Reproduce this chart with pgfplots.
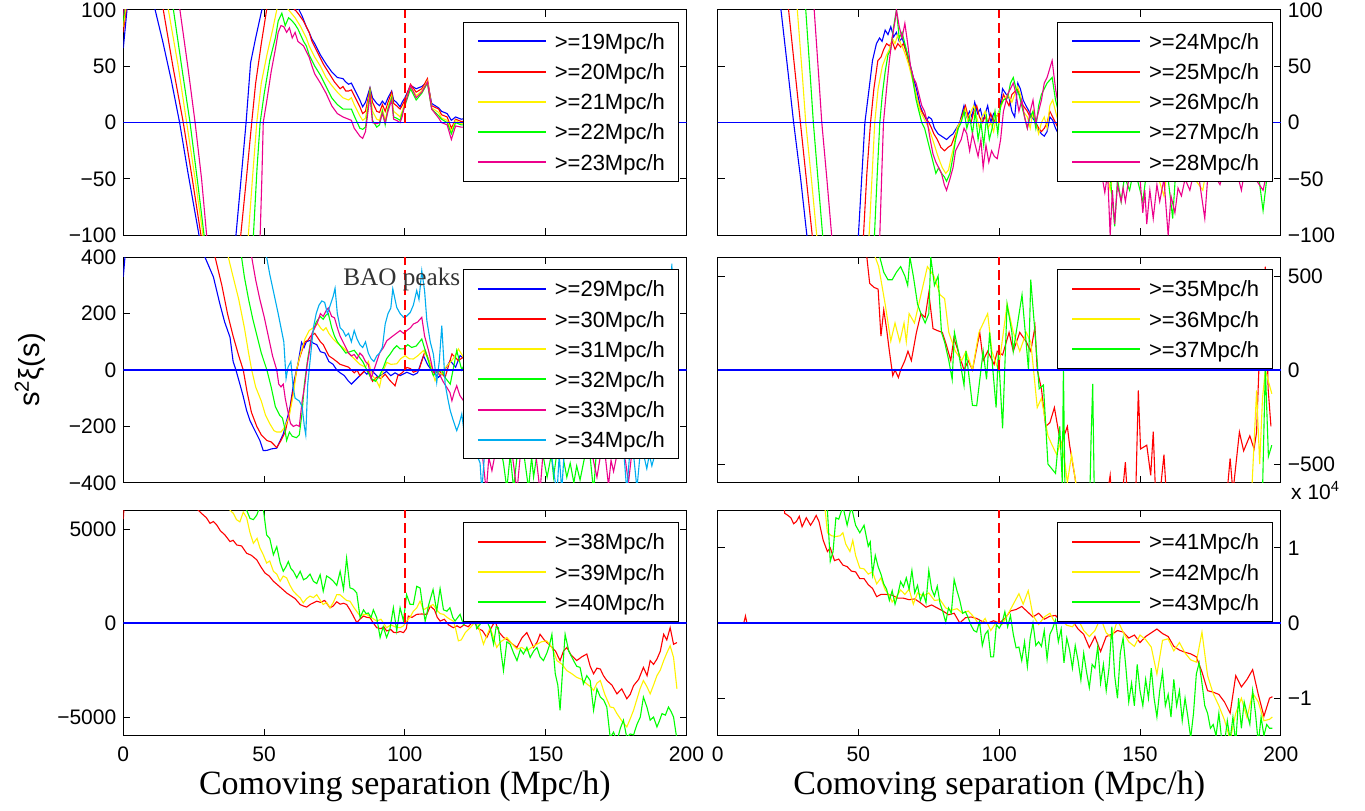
\documentclass[border=0pt]{standalone}
\usepackage{fontspec}
\setmainfont{Liberation Sans}
\newfontfamily\seriffont{Liberation Serif}
\usepackage{pgfplots}
\pgfplotsset{compat=1.18}

\pgfplotsset{
  panel/.style={
    scale only axis, width=281.6pt, height=112.8pt, anchor=south west,
    xmin=0, xmax=200, xtick={0,50,100,150,200}, xticklabels={},
    tick align=inside, major tick length=3.5pt,
    axis line style={line width=0.6pt},
    every tick/.style={black, line width=0.5pt},
    tick label style={font=\fontsize{10.5}{12}\selectfont},
    xticklabel style={yshift=-1.8pt},
    scaled y ticks=false,
    unbounded coords=jump,
    every axis plot/.append style={line width=0.55pt},
    legend cell align=left,
    legend image code/.code={\draw[##1, line width=1pt] (0pt,0pt) -- (34pt,0pt);},
    legend style={at={(1,1)}, anchor=north east, xshift=-3.75pt, yshift=-6pt,
      font=\fontsize{11}{13}\selectfont, draw=black, line width=0.6pt, fill=white,
      inner xsep=6.75pt, inner ysep=4pt, column sep=4pt, row sep=4.1pt,
      nodes={inner sep=0pt, text height=9.5pt, text depth=1.5pt}},
  },
  rightpanel/.style={panel, yticklabel pos=right},
  bottompanel/.style={xticklabels={0,50,100,150,200},
    xlabel={Comoving separation (Mpc/h)},
    xlabel style={font=\seriffont\fontsize{17}{19}\selectfont,
      at={(axis description cs:0.5,0)}, anchor=base, yshift=-29.5pt}},
  zeroline/.style={blue, line width=0.75pt, forget plot},
  baoline/.style={red, dash pattern=on 5pt off 2.5pt, line width=0.9pt, forget plot},
}

\begin{document}
\begin{tikzpicture}
\path[use as bounding box] (0,0) rectangle (682.5pt,405pt);

% ---------------- top left: 19-23 Mpc/h ----------------
\begin{axis}[panel, at={(61.65pt,287.3pt)}, ymin=-100, ymax=100,
  ytick={-100,-50,0,50,100}, yticklabels={−100,−50,0,50,100}]
\addplot[blue] coordinates {(0,66) (1.5,105) (4,180) (8,150) (11.3,100) (14,72) (17,38) (20,0) (23,-45) (26.9,-100) (30,-160) (35,-200) (38,-160) (40,-100) (42,-45) (43.6,0) (45.2,53) (47,75) (49.2,100) (52,130) (56,140) (60,110) (61,100) (62,102) (63.4,95) (65,85) (66,80) (67,74) (68,70) (70,60) (72,52) (74,45) (76,40) (78,39) (79,36) (80,34) (81,35) (82,30) (84,20) (85,14) (86,18) (87.6,31) (88.5,22) (90,17) (91,15) (92,19) (93,16) (94,22) (95.3,28) (96,20) (97,18) (98.3,14) (99,18) (100,22) (102,33) (104,30) (106,32) (108,36) (109.5,17) (112,13) (113,10) (115,8) (116.5,2) (118,5) (120,3) (124,5) (128,-3) (132,8) (136,2) (140,-5) (144,6) (148,0) (152,-8) (156,4) (160,-2) (164,6) (168,-4) (172,3) (176,-6) (180,2) (184,-3) (188,5) (192,-2) (196,1)};
\addlegendentry{>=19Mpc/h}
\addplot[red] coordinates {(0,80) (1,100) (3,150) (10,160) (14.2,100) (17.6,50) (21.3,0) (24.5,-50) (27.6,-100) (31,-160) (38,-170) (41.7,-100) (43.7,-50) (45.6,0) (47,35) (49,70) (50.9,100) (53,120) (57,115) (60,102) (61,100) (62,97) (64,90) (66,80) (67,72) (69,62) (71,52) (73,44) (75,36) (77,30) (78,32) (79,28) (80,28) (81,29) (82,24) (84,14) (85,8) (86,10) (87.6,30) (88.5,18) (90,10) (91,9) (92,16) (93,10) (94,18) (95.3,27) (96,17) (97,15) (98.3,12) (99,15) (100,20) (102,34) (104,27) (106,30) (108,39) (109.5,15) (112,12) (113,7) (115,5) (116.5,-5) (118,3) (120,1) (124,2) (128,-6) (132,5) (136,-2) (140,-8) (144,3) (148,-4) (152,-12) (156,1) (160,-6) (164,3) (168,-8) (172,0) (176,-10) (180,-2) (184,-7) (188,2) (192,-6) (196,-2)};
\addlegendentry{>=20Mpc/h}
\addplot[yellow] coordinates {(0,85) (1,105) (10,170) (16,100) (19.5,50) (22.5,0) (25.5,-50) (28.3,-100) (32,-160) (40,-170) (44.4,-100) (46,-45) (47.4,0) (49,35) (51,60) (53,82) (54.5,100) (56,110) (58,102) (60,96) (61,93) (63,85) (65,75) (66,68) (68,58) (70,50) (72,40) (74,33) (76,27) (78,22) (80,20) (81,22) (82,16) (84,6) (85,2) (86,4) (87.6,28) (88.5,10) (90,3) (91,2) (92,12) (93,2) (94,14) (95.3,24) (96,10) (97,8) (98.3,5) (99,10) (100,18) (102,32) (104,24) (106,28) (108,37) (109.5,13) (112,9) (113,4) (115,2) (116.5,-8) (118,2) (120,-1) (124,0) (128,-8) (132,3) (136,-4) (140,-10) (144,1) (148,-6) (152,-14) (156,-1) (160,-8) (164,1) (168,-10) (172,-2) (176,-12) (180,-4) (184,-9) (188,0) (192,-8) (196,-4)};
\addlegendentry{>=21Mpc/h}
\addplot[green] coordinates {(0,90) (1,110) (10,180) (17.8,100) (21,45) (23.7,0) (26.5,-55) (28.7,-100) (33,-170) (42,-170) (46.2,-100) (47.5,-40) (48.6,0) (50,25) (52,55) (54,75) (55,90) (56.3,97) (57.5,86) (58.7,93) (60,90) (61,87) (62,83) (64,72) (65,68) (66,60) (68,50) (70,42) (72,32) (74,22) (76,16) (78,12) (80,12) (81,12) (82,6) (84,-5) (85,-6) (86,-4) (87.6,27) (88.5,2) (90,-4) (91,-2) (92,10) (93,-2) (94,12) (95.3,22) (96,5) (97,4) (98.3,2) (99,8) (100,15) (102,30) (104,20) (106,26) (108,35) (109.5,12) (112,6) (113,3) (115,0) (116.5,-10) (118,0) (120,-2) (124,-2) (128,-10) (132,1) (136,-6) (140,-12) (144,-1) (148,-8) (152,-16) (156,-3) (160,-10) (164,-1) (168,-12) (172,-4) (176,-14) (180,-6) (184,-11) (188,-2) (192,-10) (196,-6)};
\addlegendentry{>=22Mpc/h}
\addplot[magenta] coordinates {(0,95) (1,115) (10,190) (20.1,100) (23,48) (25.5,0) (27.8,-50) (29.6,-100) (34,-170) (44,-175) (48.6,-100) (49.2,-50) (49.7,0) (51,20) (52.5,45) (54,65) (55,80) (56,86) (57,85) (58,80) (59,84) (60,75) (61,80) (62,72) (64,68) (66,58) (67,50) (68,43) (70,35) (72,26) (74,15) (76,8) (78,5) (80,3) (81,2) (82,-5) (84,-12) (85,-14) (86,-8) (87.6,24) (88.5,0) (90,-1) (91,0) (92,8) (93,0) (94,10) (95.3,20) (96,3) (97,2) (98.3,0) (99,5) (100,16) (102,33) (104,22) (106,27) (108,36) (109.5,12) (112,4) (113,0) (115,-2) (116.5,-15) (118,-3) (120,-4) (124,-4) (128,-12) (132,-1) (136,-8) (140,-14) (144,-3) (148,-10) (152,-18) (156,-5) (160,-12) (164,-3) (168,-14) (172,-6) (176,-16) (180,-8) (184,-13) (188,-4) (192,-12) (196,-8)};
\addlegendentry{>=23Mpc/h}
\addplot[zeroline] coordinates {(0,0) (200,0)};
\addplot[baoline] coordinates {(100,0) (100,100)};
\end{axis}

% ---------------- top right: 24-28 Mpc/h ----------------
\begin{axis}[rightpanel, at={(358.8pt,287.3pt)}, ymin=-100, ymax=100,
  ytick={-100,-50,0,50,100}, yticklabels={−100,−50,0,50,100}]
\addplot[blue] coordinates {(0,300) (15,250) (20,150) (22.5,100) (25,45) (27,0) (29.5,-50) (31.7,-100) (35,-160) (45,-170) (50,-100) (52.3,0) (53.8,30) (55,55) (56.4,70) (57.5,75) (58.4,72) (59.5,82) (60.5,78) (61.5,85) (62.5,76) (63.5,80) (64.5,72) (65.5,75) (66.5,68) (67.5,60) (68.3,52) (69.5,40) (70.6,30) (71.9,15) (73,8) (74.2,2) (75,5) (76,3) (77,-5) (78.3,-10) (79.5,-12) (81.3,-15) (82.5,-12) (83.6,-10) (84.8,-5) (86,0) (87.5,15) (88.5,5) (89.5,10) (90.3,5) (91.3,18) (92.3,8) (93.3,12) (94.3,2) (95.9,15) (97,0) (98,8) (99,5) (100,10) (101.2,30) (102.5,25) (103.5,22) (104.5,10) (105.5,5) (106.6,35) (107.5,30) (108.5,20) (109.5,15) (110.6,10) (111.5,5) (112.5,2) (113.5,-5) (115,-10) (116,-12) (117,-8) (118,5) (119,2) (120,-5) (121,-10) (124,-15) (128,-25) (132,-20) (136,-30) (140,-15) (144,-35) (148,-25) (152,-30) (156,-20) (160,-40) (164,-30) (168,-35) (172,-25) (176,-40) (180,-30) (184,-45) (188,-35) (192,-40) (196,-30)};
\addlegendentry{>=24Mpc/h}
\addplot[red] coordinates {(0,300) (20,200) (25.2,100) (27.5,45) (29.4,0) (31.5,-50) (33.6,-100) (37,-160) (47,-170) (51.8,-100) (53,-45) (54.3,0) (55.5,30) (56.9,55) (58,58) (59,65) (60,70) (61,68) (62,72) (63,65) (64,70) (65,67) (66,70) (67,62) (68,52) (69,45) (70,30) (71,20) (72,12) (73,8) (74,4) (75,0) (76,-5) (76.8,-10) (78,-15) (79.3,-22) (80.6,-25) (81.8,-22) (83,-20) (84.5,-10) (86,0) (87,8) (88,15) (89,5) (90,0) (91,10) (92,15) (93,5) (94,0) (95,5) (96,0) (97,8) (98,0) (99,5) (100,10) (101.5,25) (102.5,20) (103.5,15) (104.5,25) (106.5,30) (107.5,22) (108.5,15) (110,10) (111,5) (112,8) (113,0) (114,-5) (115,-8) (116,-5) (117,0) (118,10) (119,5) (120,0) (121,-5) (124,-10) (128,-20) (132,-25) (136,-35) (140,-20) (144,-40) (148,-30) (152,-35) (156,-25) (160,-45) (164,-35) (168,-40) (172,-30) (176,-45) (180,-35) (184,-48) (188,-40) (192,-45) (196,-35)};
\addlegendentry{>=25Mpc/h}
\addplot[yellow] coordinates {(0,300) (22,200) (28.3,100) (30,45) (31.3,0) (33.5,-55) (35.2,-100) (39,-160) (49,-170) (53.8,-100) (55,-40) (55.8,0) (57,30) (58.5,50) (60,60) (61,65) (62,75) (63,70) (64,78) (65,70) (66,65) (67,58) (68,50) (69,40) (70,30) (71,20) (72,10) (73,5) (74,0) (75,-5) (76,-12) (77,-20) (78,-28) (79,-35) (79.8,-40) (81,-45) (82,-42) (83,-30) (84,-20) (85,-5) (86,0) (87,5) (88,12) (89,0) (90,10) (91,15) (92,5) (93,-5) (94,5) (95,10) (96,-5) (97,0) (98,-8) (99,5) (100,10) (101.5,20) (103,25) (104.5,18) (106.5,32) (107.5,25) (108.5,10) (110,5) (111,-5) (112,10) (113,0) (114,-10) (115,0) (116,5) (117,-5) (118,15) (119,20) (120,10) (121,0) (124,-15) (128,-25) (132,-30) (136,-40) (138.4,-45) (139.4,-60) (140.5,-45) (144,-35) (148,-45) (152,-40) (156,-45) (158.5,-65) (159.5,-45) (164,-40) (168,-45) (172.3,-60) (173.3,-45) (176,-40) (180,-45) (184,-40) (188,-45) (192,-40) (196,-42)};
\addlegendentry{>=26Mpc/h}
\addplot[green] coordinates {(0,300) (25,200) (31.3,100) (32.8,45) (34,0) (35.8,-55) (37.3,-100) (41,-160) (51,-170) (55.7,-100) (56.7,-45) (57.6,0) (58.5,25) (59.5,45) (60.5,60) (61.5,65) (62.5,85) (63.5,100) (64.5,75) (65.5,80) (66.5,70) (67.5,60) (68.5,50) (69.5,35) (70.5,20) (71.5,10) (72.5,0) (73.5,-5) (74.5,-15) (75.5,-25) (76.5,-35) (77.5,-45) (78.5,-40) (79.5,-45) (80.5,-48) (81.3,-52) (82.5,-45) (83.6,-30) (84.5,-15) (85.5,-5) (86.5,0) (87.5,10) (88.5,-5) (89.5,5) (90.5,-10) (91.5,10) (92.5,-15) (93.5,0) (94.5,-20) (95.5,5) (96.5,-15) (97.5,-5) (98.5,10) (99.5,-10) (100.5,15) (101.5,20) (103,22) (104,35) (105,40) (106,30) (107,25) (108,15) (109,5) (110,-5) (111,5) (112,10) (113,-5) (114,15) (115,25) (116,30) (117,35) (118.8,40) (120,20) (121,10) (122,5) (124,-10) (126,-25) (128,-15) (130,-35) (132,-25) (134,-40) (136,-30) (138,-45) (139.5,-50) (141,-92) (142,-50) (143.3,-70) (144.5,-48) (146.3,-60) (147.5,-45) (149,-50) (151,-70) (152,-50) (154,-45) (156,-50) (158,-40) (160,-50) (161.6,-85) (162.5,-50) (164,-45) (166,-40) (168,-45) (170,-35) (172,-45) (174,-40) (176,-35) (178,-45) (180,-35) (182,-40) (184,-35) (186,-45) (188,-40) (190,-35) (192,-45) (193.7,-78) (195,-50) (196,-45)};
\addlegendentry{>=27Mpc/h}
\addplot[magenta] coordinates {(0,300) (28,200) (34.3,100) (35.8,45) (37,0) (38.8,-50) (40.5,-100) (44,-160) (54,-170) (57.6,-100) (58.3,-45) (58.9,0) (60,30) (61,55) (62,75) (63,90) (63.5,100) (64.5,85) (65.5,75) (66.5,88) (67.5,70) (68.5,50) (69.5,40) (70.5,35) (71.5,25) (72.5,15) (73.5,10) (74.5,0) (75.5,-15) (76.5,-28) (77.5,-35) (78.5,-40) (79.5,-45) (80.5,-55) (81.3,-60) (82.5,-50) (83.6,-40) (84.5,-25) (85.5,-20) (86.5,-15) (87.5,-5) (88.5,-10) (89.5,-25) (90.5,-10) (91.5,-20) (92.5,-30) (93.5,-15) (94.3,-40) (95.3,-20) (96.3,-35) (97.3,-25) (98.3,-30) (99.3,-32) (100.5,-15) (101.5,10) (103,25) (104,30) (105,35) (106,25) (107,10) (108,20) (109,5) (110,-5) (111,10) (112,20) (113,0) (114,10) (115,20) (116,35) (117,40) (118.8,55) (120,30) (121,15) (122,10) (124,-10) (126,-30) (128,-20) (130,-40) (132,-30) (134,-45) (136,-40) (137.5,-62) (138.5,-45) (139.4,-100) (140.2,-60) (141,-90) (142,-55) (143.3,-70) (144,-58) (144.8,-70) (146,-50) (148,-45) (150,-50) (151,-80) (151.7,-60) (152.4,-90) (153.5,-60) (154.7,-85) (156,-55) (157,-70) (158.5,-50) (160,-100) (161,-65) (162.4,-80) (163.5,-58) (164.7,-65) (166,-50) (167.7,-60) (169,-45) (171,-50) (173,-85) (174,-50) (176,-45) (178.4,-55) (180,-40) (182,-45) (184,-40) (186,-60) (187,-45) (189,-40) (191,-50) (193.7,-60) (195,-45) (196,-40)};
\addlegendentry{>=28Mpc/h}
\addplot[zeroline] coordinates {(0,0) (200,0)};
\addplot[baoline] coordinates {(100,0) (100,100)};
\end{axis}

% ---------------- middle left: 29-34 Mpc/h ----------------
\begin{axis}[panel, at={(61.65pt,163.6pt)}, ymin=-400, ymax=400,
  ytick={-400,-200,0,200,400}, yticklabels={−400,−200,0,200,400},
  ylabel={s\textsuperscript{2}ξ(s)},
  ylabel style={at={(axis description cs:-0.1655,0.5)}, anchor=center,
    font=\fontsize{14.5}{16}\selectfont}]
\addplot[blue] coordinates {(0,330) (1,450) (10,1000) (25,700) (29,400) (32,330) (34.3,234) (36,170) (37.9,116) (39,30) (40,0) (41.4,-50) (42.5,-90) (43.8,-144) (45,-180) (46.2,-204) (47.5,-230) (48.5,-250) (49.7,-286) (51,-285) (52.5,-280) (54.5,-277) (55.5,-255) (56.8,-227) (58,-180) (59.2,-132) (60.6,-40) (62,20) (63.3,98) (64.2,80) (65,100) (66.3,105) (67.5,95) (68.7,90) (70,65) (71.6,60) (73,30) (74.5,20) (75.8,0) (77,-10) (78.5,-20) (80,-40) (81,-50) (82.5,-35) (84,-20) (85.5,-5) (86.5,-15) (87.6,0) (89,-10) (90.5,-25) (92,-15) (93.5,-5) (95,-20) (96.5,-10) (98.3,-20) (100.7,-8) (103,-18) (104.5,-10) (106.6,51) (108,20) (109.6,-3) (111.9,-26) (113.5,-10) (116.1,33) (118,10) (119.6,51) (121,40) (124,-50) (128,0) (132,-80) (136,30) (140,-100) (144,-20) (148,-150) (152,20) (156,-100) (160,-200) (164,-50) (168,-150) (172,-250) (176,-100) (180,-200) (184,-150) (188,-250) (192,-100) (196,-150)};
\addlegendentry{>=29Mpc/h}
\addplot[red] coordinates {(0,450) (10,1000) (28,600) (32.6,400) (35,300) (37,200) (39,120) (41,50) (42.6,0) (44,-80) (45.5,-150) (47.4,-200) (49,-230) (51,-250) (52.5,-255) (54.5,-275) (56,-250) (57.5,-220) (59,-150) (60.5,-60) (61.6,0) (62.5,40) (63.5,70) (64.5,100) (65.5,105) (66.5,120) (68,130) (69,115) (70,100) (71,90) (72,70) (73,50) (74.5,40) (75.8,30) (77,20) (78.5,15) (80,10) (81,0) (82,-10) (83,0) (84,-20) (85,-10) (86,0) (87,-5) (88.5,-40) (90,-25) (91.5,-30) (93,-15) (94.5,-35) (96.5,-56) (97.5,-20) (99,-10) (100.7,9) (102,5) (103,-8) (105,0) (107.2,69) (109,21) (110.7,-14) (111.9,0) (114.3,-26) (116.7,57) (119,33) (121.4,51) (124,80) (128,-50) (132,50) (136,-100) (140,0) (144,-150) (148,-50) (152,-200) (156,-100) (160,-50) (164,-200) (168,-100) (172,-150) (176,-250) (180,-100) (184,-200) (188,-150) (192,-250) (196,-200)};
\addlegendentry{>=30Mpc/h}
\addplot[yellow] coordinates {(0,500) (10,1000) (32,600) (37.3,400) (39,330) (41,250) (43,150) (44.5,60) (45.6,0) (47,-60) (49,-110) (50.5,-160) (52,-190) (53.5,-215) (54.5,-220) (56,-220) (57.5,-200) (59,-160) (60.5,-80) (61.5,0) (63,60) (64.5,110) (66,140) (67.5,150) (69,165) (70,150) (71,140) (72,150) (73,130) (74.5,110) (76,95) (78,80) (80,60) (82,40) (84,20) (86,10) (87,30) (88.5,-20) (90,-40) (91,-60) (92,-10) (93.6,27) (95,20) (97.1,22) (98.5,40) (100.1,51) (101.5,40) (103,39) (104.5,50) (106.6,69) (108,45) (109,22) (110.7,-38) (112,-10) (113.1,-15) (114.5,10) (116.1,27) (117.5,45) (119,75) (120.8,45) (124,40) (128,-80) (132,20) (136,-50) (140,-150) (144,-80) (148,-200) (152,-50) (156,-250) (160,-150) (164,-100) (168,-250) (172,-150) (176,-200) (180,-250) (184,-150) (188,-200) (192,-280) (196,-200)};
\addlegendentry{>=31Mpc/h}
\addplot[green] coordinates {(0,600) (10,1100) (35,700) (42,400) (43,330) (44.5,250) (46,180) (47.5,120) (49,60) (51,0) (52.5,-60) (54,-130) (55.5,-160) (56.5,-170) (57.2,-200) (58,-250) (59,-220) (60,-235) (61.5,-240) (62.5,-230) (63.5,-150) (64.3,-50) (65.5,40) (66.5,100) (67.5,140) (68.5,170) (69.9,190) (71,180) (72,195) (72.8,200) (74,150) (75,120) (76,100) (77.5,80) (79,60) (80.5,65) (82,70) (83.5,50) (85,30) (86.5,0) (88,-30) (89.5,-40) (91,-20) (92.4,10) (93.5,40) (94.8,57) (96,75) (97.1,86) (98.3,75) (99.5,75) (101,90) (102.4,80) (104,85) (106,110) (107.8,50) (109,10) (110.1,-20) (111.5,-5) (113.1,-2) (114.5,-30) (116.1,-50) (117.5,20) (118.4,69) (120.2,0) (122,40) (124,-100) (126,-250) (128,-200) (130,-300) (132,-250) (134,-280) (135,-330) (136.2,-420) (137.4,-300) (138.6,-420) (140,-290) (142,-280) (143.9,-420) (145,-310) (145.7,-380) (147,-290) (149,-300) (150.5,-380) (152,-300) (152.8,-380) (154,-290) (156,-300) (157.5,-380) (158.7,-330) (160,-400) (161,-340) (162.2,-390) (164,-300) (165.5,-280) (167,-430) (168,-290) (170,-270) (172,-300) (174,-280) (176,-260) (178,-300) (180,-270) (182,-290) (184,-260) (186,-280) (188,-300) (190,-250) (192,-280) (194,-260) (196,-270)};
\addlegendentry{>=32Mpc/h}
\addplot[magenta] coordinates {(0,700) (10,1200) (40,700) (45.6,400) (47,320) (48.5,250) (50,190) (51.5,120) (53,50) (54.5,0) (55.2,-50) (56,-60) (56.8,-50) (57.5,-100) (58.5,-150) (59.4,-190) (60.4,-200) (61.5,-195) (62.5,-200) (63.5,-110) (64.5,-50) (65.3,20) (66,60) (67,130) (68,150) (69,170) (70,200) (71,190) (72,210) (72.8,220) (74,190) (75,185) (76,150) (77,120) (78,100) (79,80) (80,60) (81,50) (82,55) (83,40) (84,60) (85,50) (86,30) (87,20) (88,-30) (89,0) (90,30) (91,60) (92.4,80) (93.6,104) (95,115) (95.9,122) (97,130) (98.3,140) (99.5,130) (100.7,140) (102,150) (103,163) (104.5,170) (106,187) (107,120) (108.4,69) (109.5,20) (110.1,-8) (111,0) (112.5,-20) (113.5,-40) (114.9,-62) (116,-80) (116.7,-109) (117.5,-80) (118.4,-56) (119.5,-90) (120.8,-109) (122,-80) (124,-200) (126,-280) (127.5,-300) (128.9,-430) (129.8,-310) (130.9,-357) (132,-300) (134,-280) (136,-300) (138,-290) (139.8,-430) (141,-300) (143,-270) (145,-290) (146.5,-300) (148,-430) (149,-300) (151,-280) (153,-300) (155,-270) (157,-290) (159,-300) (161,-280) (163,-300) (165,-290) (166.5,-300) (168.2,-380) (169.5,-300) (171,-290) (172.3,-410) (173.2,-320) (174.1,-360) (175.5,-290) (177,-300) (178.3,-320) (179.4,-400) (180.5,-300) (182,-280) (184,-290) (186,-270) (188,-300) (190,-280) (192,-290) (194,-270) (196,-280)};
\addlegendentry{>=33Mpc/h}
\addplot[cyan] coordinates {(0,800) (10,1300) (45,700) (50.9,400) (52,340) (53.5,270) (55,200) (56,150) (57,100) (57.8,-30) (58.5,10) (59.5,30) (60.3,-60) (61,-100) (62.5,-110) (63.5,-130) (64.3,-200) (64.8,-230) (65.5,-50) (66.5,50) (67.5,150) (68.5,200) (69.5,230) (70.5,245) (71.5,240) (72.5,200) (73.5,230) (74.5,260) (75.2,290) (76,200) (77,150) (78,140) (79,120) (80,130) (81,100) (82,140) (83,110) (84,90) (85,80) (86,100) (87,60) (88,40) (89,30) (90,50) (91,60) (92,80) (93,163) (94,200) (95,220) (95.7,288) (97.1,222) (98.3,200) (99.5,187) (100.5,190) (101.9,204) (103,230) (104.2,282) (105,250) (106,352) (107,280) (107.8,175) (109,100) (110.1,57) (111.3,-44) (112.2,30) (113.1,157) (114.3,-50) (115.2,-100) (116.1,-144) (117.2,-180) (118.4,-215) (119.3,-190) (120.2,-156) (121.4,-250) (122.5,-230) (124,-280) (125.5,-300) (126.7,-330) (127.3,-430) (128.2,-310) (130,-290) (132.6,-300) (134,-280) (136,-300) (138,-270) (140,-290) (142,-280) (144,-300) (146,-270) (148,-290) (150,-280) (152,-300) (154,-440) (154.8,-300) (155.7,-430) (156.5,-300) (158,-290) (160,-280) (162,-300) (164,-270) (166,-290) (168,-280) (170,-300) (172,-270) (174,-290) (176,-280) (177.8,-300) (178.8,-430) (179.8,-300) (181.3,-310) (182.4,-420) (183.5,-300) (185,-310) (185.9,-350) (186.8,-300) (187.7,-340) (189,-290) (191,-280) (193,-300) (194.8,377) (196,-150)};
\addlegendentry{>=34Mpc/h}
\addplot[zeroline] coordinates {(0,0) (200,0)};
\addplot[baoline] coordinates {(100,0) (100,400)};
\node[anchor=base west, inner sep=0pt, font=\seriffont\fontsize{12.6}{14}\selectfont, text=black!80] at (axis cs:78,299) {BAO peaks};
\end{axis}

% ---------------- middle right: 35-37 Mpc/h ----------------
\begin{axis}[rightpanel, at={(358.8pt,163.6pt)}, ymin=-600, ymax=600,
  ytick={-500,0,500}, yticklabels={−500,0,500}]
\addplot[red] coordinates {(0,5000) (40,3000) (50,1500) (53,600) (54,461) (55.5,440) (57,430) (58,180) (59,320) (60,220) (61,100) (62.2,-30) (63,0) (64.2,-40) (65,0) (66.5,50) (67.6,100) (68.8,50) (70.6,200) (72.2,300) (73.7,280) (75,410) (76.5,220) (78,210) (79.8,200) (81.3,130) (82.8,50) (83.9,170) (85.2,110) (87.5,0) (89,50) (90.5,0) (93.1,200) (94.3,50) (95.9,100) (98.2,30) (99.3,100) (101.2,80) (103.5,200) (105,100) (107.3,200) (109.6,150) (111.2,100) (112.7,230) (113.5,0) (115,-100) (116.5,-300) (118,-280) (119.6,-200) (121.9,-400) (124.2,-300) (125,-400) (127,-580) (128,-700) (130,-800) (134,-650) (138,-700) (139.4,-560) (140.5,-800) (143.5,-700) (144.8,-490) (145.6,-700) (148.5,-650) (149.4,-109) (150.2,-420) (152.4,-400) (153.8,-560) (154.7,-328) (155.5,-650) (157.5,-600) (158.5,-450) (159.3,-650) (162,-800) (170,-750) (178,-800) (181,-640) (182,-470) (183,-650) (185.3,-330) (186.8,-430) (189,-350) (190.5,-420) (191.4,-330) (192.2,0) (194.5,550) (195.5,-100) (196.5,-300)};
\addlegendentry{>=35Mpc/h}
\addplot[yellow] coordinates {(0,5000) (45,3000) (54,1000) (56,600) (57.2,550) (59.5,350) (61.5,154) (63,250) (64.7,150) (66.2,250) (67,150) (68,300) (69.9,250) (72.2,400) (74.5,550) (76.8,500) (79,400) (80.6,380) (82.1,200) (84.4,100) (86.7,50) (88.2,100) (90.5,0) (92.8,200) (95.9,300) (97.4,100) (99.7,0) (102.8,350) (105,200) (107.3,100) (109.6,200) (111.2,150) (112.2,0) (113.5,-200) (115,-150) (117.3,-350) (118.8,-400) (120.4,-450) (121.9,-380) (123.4,-500) (124.2,-600) (125.7,-450) (127.2,-600) (130,-750) (140,-800) (150,-700) (155,-800) (165,-750) (175,-800) (189.5,-700) (191.4,-109) (192.5,-500) (193.5,-150) (194.5,0) (196.8,-126)};
\addlegendentry{>=36Mpc/h}
\addplot[green] coordinates {(0,6000) (45,3000) (55,1000) (57.6,600) (59,520) (60.5,480) (62,480) (63.5,520) (65,550) (66.5,500) (67.5,450) (68.3,600) (69.5,500) (71,350) (72.2,300) (73.7,250) (75,300) (75.7,600) (77,450) (78.3,500) (79.5,200) (80.6,150) (82.1,50) (83.3,-50) (84.1,200) (85.5,100) (87.5,-82) (88.2,100) (90.5,-188) (92,-190) (94.3,100) (95.5,-50) (96.6,200) (98.9,-200) (99.7,100) (101.2,-310) (102.8,350) (104.5,200) (105,100) (108.1,400) (110.4,0) (111.2,480) (112.7,200) (114.2,-100) (115.7,-80) (117.3,-500) (120,-550) (121.5,-300) (122.4,-600) (122.8,5) (123.4,-700) (125,-750) (130,-650) (132,-800) (132.6,-380) (133.2,-74) (133.8,-700) (140,-750) (150,-800) (160,-700) (170,-800) (180,-750) (190,-700) (193.5,-650) (194.5,14) (195.6,-460) (196.8,-400)};
\addlegendentry{>=37Mpc/h}
\addplot[zeroline] coordinates {(0,0) (200,0)};
\addplot[baoline] coordinates {(100,0) (100,600)};
\end{axis}

% ---------------- bottom left: 38-40 Mpc/h ----------------
\begin{axis}[panel, bottompanel, at={(61.65pt,37.1pt)}, ymin=-6000, ymax=6000,
  ytick={-5000,0,5000}, yticklabels={−5000,0,5000}]
\addplot[red] coordinates {(0,5527) (1,8000) (5,20000) (20,15000) (25,7500) (26.6,6000) (28,5800) (29.5,5600) (30.8,5300) (32,5400) (33.2,5210) (34.5,4900) (36,4700) (37.9,4330) (39,4400) (40.3,4150) (42,4100) (43.8,3710) (45.5,3600) (47.4,3360) (48.8,3000) (50.3,2660) (51.8,2500) (53.3,2220) (55,2000) (56.5,1800) (58,1600) (59.5,1450) (61,1300) (62.8,985) (64,900) (65.1,845) (66.5,1000) (68.7,1160) (70,1100) (71.5,1200) (73.4,810) (74.5,900) (75.8,1130) (77,1000) (78.2,1050) (79.3,985) (80.5,700) (81.7,370) (82.9,18) (84,200) (85.3,370) (86.5,300) (87.6,280) (88.8,0) (90,-250) (91.5,-300) (92.5,-200) (93.5,-420) (95,-350) (96,-500) (97.1,-510) (98.3,-450) (99.5,-510) (100.5,-300) (101.2,370) (102.5,300) (104.2,460) (106,480) (107.8,460) (109,900) (110.5,700) (111.5,300) (112.5,100) (114,200) (115.5,-100) (117.2,-250) (118.5,-150) (119.6,-250) (121,-100) (122.5,-200) (124.4,100) (126,-300) (127.5,-400) (129.1,-770) (130.5,-300) (132,100) (133.5,-500) (135,-770) (136.5,-900) (138,-1100) (139.8,-1300) (141.5,-800) (143.3,-510) (144.5,-900) (145.7,-1300) (147,-1000) (148,-600) (149.5,-900) (151.6,-1200) (153.5,-1500) (155.1,-2000) (156.3,-1500) (157.5,-1300) (159,-1700) (161,-2000) (162.8,-1800) (164.6,-1650) (165.8,-2300) (167,-2700) (168.2,-2400) (169.4,-2450) (170.5,-2800) (171.7,-3060) (173.5,-3300) (175.3,-3770) (177,-3500) (178.8,-4030) (180,-3800) (181.2,-3330) (183,-3000) (184.7,-2360) (186,-2800) (187.1,-2000) (188.3,-2200) (189.5,-1920) (190.7,-1500) (191.9,-600) (193,-900) (194.2,-250) (195.4,-1130) (196.6,-1040)};
\addlegendentry{>=38Mpc/h}
\addplot[yellow] coordinates {(0,8000) (5,20000) (30,15000) (36,8000) (37.9,6000) (39.1,5830) (40.2,5500) (41.4,5380) (42.6,5900) (43.8,5600) (45,4800) (46.2,4240) (47.5,4500) (48.5,4000) (49.7,3630) (50.9,3190) (52,3300) (53.3,2750) (54.5,2600) (55.7,2220) (56.8,2500) (58,2400) (59.2,2000) (60.4,1690) (61.6,1500) (62.8,1340) (63.9,1070) (65.1,1300) (66.3,1430) (67.5,1350) (68.7,1510) (70,1200) (71,985) (72.2,1100) (73.4,810) (74.6,1100) (75.8,1510) (77,1500) (78.2,1340) (79.3,1200) (80.5,1160) (82,800) (84.1,370) (85.3,450) (86.4,460) (88,300) (90,100) (91.5,200) (93.5,-250) (95,-100) (96.5,-200) (98.3,-250) (99.5,-150) (100.6,100) (101.8,300) (103,630) (104.2,800) (105.4,1160) (106.6,700) (107.8,810) (109,900) (110,985) (111.3,700) (112.5,500) (113.7,460) (115,300) (116,200) (117.2,100) (118,-300) (119,-950) (120,-900) (121.5,-500) (123.2,-250) (124.3,-50) (125.5,190) (126.7,-500) (127.9,-1130) (129,-700) (130.3,-250) (131.5,-800) (132.6,-1300) (134,-1000) (135,-900) (136.2,-770) (137.5,-1000) (138.6,-1200) (139.8,-1390) (141.5,-1300) (143.3,-1480) (145,-1300) (146.9,-1130) (148.5,-1000) (150.4,-950) (152.2,-1300) (154,-2000) (155.8,-2200) (157.5,-2530) (159.3,-2700) (161,-2890) (162.8,-3000) (164.6,-3240) (166,-3400) (167,-3590) (168.2,-3200) (169.4,-3060) (171,-3800) (172.9,-4470) (174.1,-4500) (175.3,-4820) (177,-5200) (178.8,-5530) (180,-5100) (181.2,-4640) (182.5,-4000) (183.5,-3500) (184.7,-3060) (186,-3400) (187.1,-3770) (188.3,-3300) (189.5,-2800) (190.7,-2500) (191.9,-2000) (193,-1600) (194.2,-1210) (195.4,-1830) (196.6,-3500)};
\addlegendentry{>=39Mpc/h}
\addplot[green] coordinates {(0,9000) (5,22000) (35,16000) (42,8000) (43.8,6000) (45,5560) (46.2,5500) (47.4,5740) (48.5,6200) (49.7,6100) (50.9,4680) (52,4500) (53.3,3630) (54.5,4060) (55.7,3200) (56.8,2750) (57.8,3000) (58.6,3270) (59.5,2900) (60.4,2750) (61.6,2400) (62.8,2750) (64,2300) (65.1,2390) (66.3,2600) (67.5,2220) (68.7,2100) (69.9,2570) (71,1690) (72.2,2500) (73.4,2390) (74.6,2220) (75.8,2000) (77,2750) (78.2,1790) (79.3,3450) (80.5,1870) (81.7,1800) (82.9,1600) (84.1,280) (85.3,700) (86.2,500) (87,530) (88,300) (88.8,700) (90,280) (91.2,-770) (92.3,-200) (93.5,-770) (94.7,-300) (95.9,810) (97.1,-420) (98.3,810) (99.5,100) (100.6,1510) (101.8,1000) (103,985) (104.2,1950) (105.4,1860) (106.3,900) (107.2,100) (108.5,1000) (110,1780) (111.3,630) (112.5,1830) (113.7,700) (114.9,630) (116,810) (117,300) (117.8,100) (119.6,460) (120.8,-100) (122,100) (123.2,300) (124.4,630) (125.5,-300) (126.7,-70) (127.9,200) (129.1,100) (130.3,-300) (131.5,-1130) (132.4,-200) (133.2,-250) (134.1,-1500) (135,-2530) (136.2,-1000) (137.4,-1130) (138.6,-1600) (139.8,-2000) (141,-1400) (142.1,-1650) (143.3,-1300) (144.5,-1830) (145.7,-1500) (146.9,-1300) (148,-1800) (149.2,-2000) (150.4,-1600) (151.3,-1200) (152.2,-600) (153.4,-2700) (154.3,-3300) (155.1,-4640) (156,-2500) (156.9,-600) (158.2,-1500) (159.9,-2000) (161,-2300) (162.2,-2360) (163.4,-3240) (164.6,-2800) (165.8,-3060) (167,-4640) (168.2,-3500) (169.4,-3940) (170.6,-4100) (171.7,-4470) (172.9,-6100) (174.1,-5800) (175.3,-6300) (176.5,-5600) (177.6,-5170) (178.8,-6100) (180,-5900) (181.2,-5950) (182.4,-5400) (183.6,-5000) (184.7,-3940) (186,-4500) (187.1,-5170) (188.3,-5000) (189.5,-5530) (190.4,-5200) (191.3,-4820) (192.5,-4900) (193.6,-4470) (194.5,-4700) (195.4,-5000) (196.6,-6200)};
\addlegendentry{>=40Mpc/h}
\addplot[zeroline] coordinates {(0,0) (200,0)};
\addplot[baoline] coordinates {(100,0) (100,6000)};
\end{axis}

% ---------------- bottom right: 41-43 Mpc/h ----------------
\begin{axis}[rightpanel, bottompanel, at={(358.8pt,37.1pt)}, ymin=-15000, ymax=15000,
  ytick={-10000,0,10000}, yticklabels={−1,0,1},
  after end axis/.code={\node[anchor=base west, inner sep=0pt, font=\fontsize{10.5}{12}\selectfont, xshift=5pt, yshift=5.4pt] at (rel axis cs:1,1) {x 10\textsuperscript{4}};}]
\addplot[red] coordinates {(9.3,0) (9.9,930) (10.4,0) (10.8,nan) (21,40000) (23.8,14600) (25,14300) (26,14000) (27,13200) (28,13500) (29,14200) (30,12800) (31.5,14000) (33,13000) (34,13600) (35,14300) (36,13500) (37.5,11000) (39,9500) (40,10000) (41.5,8300) (43,8500) (44.5,7700) (46,7500) (47.5,6900) (49,6800) (50.5,5900) (52,5900) (53.5,5100) (55,4600) (56.5,3500) (58,3800) (60,3800) (62,3700) (64,3300) (66,3300) (68,3100) (70,3200) (72,2700) (74,2100) (76,2400) (78,2000) (80,1600) (82,1100) (84,1300) (86,0) (88,700) (90,800) (92,600) (94,200) (96,0) (98,300) (100,0) (102,600) (104,1600) (106,1800) (108,2200) (110,1500) (112,800) (114,1300) (116,500) (118,900) (120,1000) (122,200) (124,500) (126,300) (128,-800) (130,-1500) (132,-3270) (134,-1800) (136,-3800) (138,-1800) (140,-1500) (142,-1000) (144,-1200) (146,-2000) (148,-1600) (150,-2600) (152,-1800) (154,-1300) (156,-800) (158,-1400) (160,-1800) (162,-3100) (164,-3600) (166,-3900) (168,-4100) (170,-4500) (172,-6500) (174,-9000) (176,-9200) (178,-9500) (180,-10500) (182,-12000) (184,-7000) (186,-8500) (188,-7500) (190,-6200) (192,-9500) (194,-12400) (196,-10000) (197,-9800)};
\addlegendentry{>=41Mpc/h}
\addplot[yellow] coordinates {(30,40000) (38.2,15000) (39,12000) (40.5,11600) (42,11500) (43.5,11600) (44.5,12000) (45.5,10500) (47,9500) (48,11000) (49,9000) (50.5,7300) (52,7200) (53.5,6500) (55,6800) (56.5,5200) (58,6000) (59.5,4400) (61,3700) (62,2800) (63.5,3500) (65,4400) (66.5,3800) (68,4500) (69.5,2500) (71,4000) (73,3600) (75,4000) (77,3000) (79,3100) (81,2000) (83,1700) (85,1900) (87,1300) (89,1600) (91,800) (93,-300) (95,600) (97,-1000) (99,100) (101,-200) (103,1100) (105,2500) (107,3900) (108.5,2500) (110.3,4300) (112,1000) (114,-200) (116,800) (118,1300) (120,-100) (122,400) (124,-300) (126,-500) (128,500) (130,-1000) (132,-1800) (134,-1000) (136,700) (138,-1300) (140,-2000) (142,400) (144,-1200) (146,-2500) (148,-3100) (150,-1600) (152,-2200) (154,-3200) (156,-6800) (158,-2300) (160,-2100) (162,-3700) (164,-2600) (166,-4000) (168,-4900) (170,-5200) (172,-1200) (174,-7000) (176,-9400) (178,-11000) (180,-12900) (182,-15500) (184,-12000) (186,-10000) (188,-12600) (190,-9300) (192,-10500) (194,-13000) (196,-12800) (197,-12500)};
\addlegendentry{>=42Mpc/h}
\addplot[green] coordinates {(30,40000) (39,15000) (40,8200) (41,9500) (42,14000) (43,13800) (44.5,15500) (46,13000) (47.5,15500) (49,13000) (50.5,12000) (52,13000) (53.5,10200) (54.2,10800) (55,6500) (56,9000) (57,7500) (58,6500) (59,5200) (60,4500) (61,3000) (62,4300) (63,2500) (64,3800) (65,5500) (66,4800) (67,6000) (68,4500) (69,7000) (70,4000) (71,5000) (72,3000) (73,4000) (74,2700) (75,7000) (76,4500) (77,3600) (78,4900) (79,2600) (80,1500) (81,100) (82,2000) (83,1300) (84,5800) (85,4300) (86,3000) (87,1300) (88,1500) (89,700) (90,-300) (91,-1000) (92,-1200) (93,200) (94,-3000) (95,-1500) (96,-1000) (97,-4500) (98,-4500) (99,-200) (100,-700) (101,0) (102,1500) (103,-500) (104,1000) (105,-1500) (106,-3300) (107,-3200) (108,-5000) (109,-2500) (110,-5800) (111,-2000) (112,0) (113,-3000) (114,-2500) (115,-3100) (116,-1000) (117,-4800) (118,-1500) (119,-700) (120,400) (121,-2500) (122,-800) (123,-5300) (124,-2000) (125,-3600) (126,-6000) (127,-3000) (128,-5000) (129,-7600) (130,-4000) (131,-6500) (132,-8600) (133,-5500) (134,-6000) (135,-3100) (136,-8000) (137,-5500) (138,-9000) (139,-6000) (140,-500) (141,-7000) (142,-10000) (143,-4000) (144,-2000) (145,-6000) (146,-10500) (147,-8000) (148,-11000) (149,-5500) (150,-9000) (151,-11000) (152,-7500) (153,-10000) (154,-6000) (155,-10000) (156,-12500) (157,-9000) (158,-6500) (159,-11000) (160,-9500) (161,-12500) (162,-7500) (163,-11000) (164,-9000) (165,-13000) (166,-10000) (167,-12500) (168,-15300) (169,-12000) (170,-6800) (171,-5300) (172,-8000) (173,-11000) (174,-12000) (175,-14000) (176,-13500) (177,-15000) (178,-12000) (179,-15500) (180,-16000) (181,-13000) (182,-15500) (183,-12500) (184,-16000) (185,-10000) (186,-14000) (187,-10500) (188,-12000) (189,-13500) (190,-9000) (191,-12000) (192,-16000) (193,-12500) (194,-15000) (195,-13500) (196,-14000) (197,-14000)};
\addlegendentry{>=43Mpc/h}
\addplot[zeroline] coordinates {(0,0) (200,0)};
\addplot[baoline] coordinates {(100,0) (100,15000)};
\end{axis}
\end{tikzpicture}
\end{document}
